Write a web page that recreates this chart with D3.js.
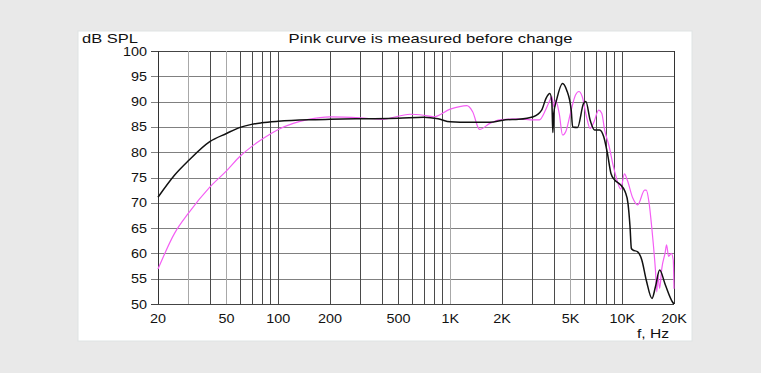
<!doctype html>
<head>
  <script src="https://cdn.jsdelivr.net/npm/d3@7/dist/d3.min.js" charset="utf-8"></script>
</head>

<style type="text/css">
  body { margin: 0; background: #e9e9e9; }
  svg { display: block; }
  .lbl { font-family: 'Liberation Sans', Arial, Helvetica, sans-serif; fill: #111; }
</style>

<body>
<svg></svg>
<script>
// measured after change (black)
var blackFreq = [20, 25, 30, 40, 50, 60, 70, 80, 100, 150, 200, 300, 500, 700, 850, 1000, 1300, 1700,
  2100, 2500, 3040, 3400, 3600, 3800, 3900, 3950, 4000, 4150, 4500, 4750, 5050, 5150, 5500, 5970, 6150,
  6500, 6900, 7400, 7800, 8200, 8600, 9000, 9800, 10400, 10800, 11100, 11300, 11500, 12300, 13000,
  13800, 14900, 15600, 16500, 17800, 19600, 20000];
var blackDb = [71.1, 75.5, 78.3, 82.1, 83.7, 84.9, 85.5, 85.8, 86.1, 86.4, 86.5, 86.6, 86.7, 86.9, 86.6,
  86.0, 85.9, 85.9, 86.4, 86.5, 87.0, 88.3, 90.6, 91.6, 89.7, 83.9, 87.7, 90.3, 93.6, 92.3, 88.3, 85.0,
  84.9, 89.7, 90.0, 86.4, 84.4, 84.4, 83.1, 79.8, 75.8, 74.6, 73.5, 72.2, 69.9, 65.3, 61.0, 60.7, 60.3,
  58.7, 54.7, 51.1, 53.4, 56.7, 53.8, 50.4, 50.0];

// measured before change (pink)
var pinkFreq = [20, 25, 30, 40, 50, 60, 70, 80, 100, 150, 200, 300, 400, 585, 700, 800, 1000, 1250, 1350,
  1480, 1700, 1950, 2500, 3040, 3300, 3600, 3800, 3900, 4000, 4100, 4300, 4500, 4700, 5000, 5350, 5600,
  5850, 6200, 6500, 6800, 7300, 7600, 7900, 8400, 8800, 9200, 9800, 10300, 10700, 11500, 12300, 13500,
  13800, 14300, 14900, 15600, 15900, 16100, 16500, 17000, 17800, 18100, 18600, 19300, 19800, 20000];
var pinkDb = [56.9, 64.0, 67.9, 73.1, 76.3, 79.2, 81.1, 82.5, 84.5, 86.5, 87.0, 86.8, 86.5, 87.5, 87.3,
  87.0, 88.5, 89.2, 88.0, 84.5, 85.7, 86.4, 86.6, 86.4, 86.4, 88.5, 90.3, 91.0, 89.0, 90.3, 87.7, 83.4,
  84.1, 87.7, 91.3, 92.0, 91.0, 87.0, 84.7, 85.7, 88.3, 87.7, 84.4, 81.1, 77.8, 75.2, 72.7, 75.7, 74.5,
  71.0, 69.6, 72.5, 72.5, 70.2, 64.6, 56.7, 52.4, 55.7, 53.1, 57.1, 60.3, 61.7, 59.4, 60.0, 58.7, 53.0];

var gridFreqs = [20, 30, 40, 50, 60, 70, 80, 90, 100, 200, 300, 400, 500, 600, 700, 800, 900,
  1000, 2000, 3000, 4000, 5000, 6000, 7000, 8000, 9000, 10000, 20000];
var lightFreqs = [30, 50, 1000, 5000];
var xTickValues = [20, 50, 100, 200, 500, 1000, 2000, 5000, 10000, 20000];
var xTickLabels = ["20", "50", "100", "200", "500", "1K", "2K", "5K", "10K", "20K"];
var yTicks = [50, 55, 60, 65, 70, 75, 80, 85, 90, 95, 100];

var W = 761, H = 373;
var svg = d3.select("svg").attr("width", W).attr("height", H);

// white panel
svg.append("rect")
  .attr("x", 78).attr("y", 31).attr("width", 614).attr("height", 310)
  .style("fill", "#fff").style("stroke", "#dfe4e4").style("stroke-width", 1);

var x = d3.scaleLog().domain([20, 20000]).range([158, 674]);
var y = d3.scaleLinear().domain([50, 100]).range([304, 51]);

var grid = svg.append("g");

// horizontal grid + y ticks
grid.selectAll("line.h").data(yTicks).enter().append("line")
  .attr("x1", 151).attr("x2", x(20000))
  .attr("y1", function(d){ return Math.round(y(d)) + 0.5; })
  .attr("y2", function(d){ return Math.round(y(d)) + 0.5; })
  .style("stroke", function(d){ return (d == 100 || d == 50) ? "#444" : "#808080"; })
  .style("stroke-width", 1);

// vertical grid
grid.selectAll("line.v").data(gridFreqs).enter().append("line")
  .attr("x1", function(d){ return Math.round(x(d)) + 0.5; })
  .attr("x2", function(d){ return Math.round(x(d)) + 0.5; })
  .attr("y1", y(100)).attr("y2", y(50))
  .style("stroke", function(d){
    if (d == 20 || d == 20000) return "#333";
    return lightFreqs.indexOf(d) >= 0 ? "#a8a8a8" : "#4a4a4a";
  })
  .style("stroke-width", 1);

// text helper: the source font is stretched sideways
function label(txt, px, py, size, anchor, sx){
  return svg.append("text").classed("lbl", true)
    .attr("transform", "translate(" + [px, py] + ") scale(" + sx + ",1)")
    .attr("text-anchor", anchor)
    .style("font-size", size + "px")
    .text(txt);
}

yTicks.forEach(function(d){ label(d, 147, y(d) + 4.5, 12, "end", 1.2); });
xTickValues.forEach(function(d, i){ label(xTickLabels[i], x(d), 323, 12, "middle", 1.2); });

label("dB SPL", 82, 43, 13, "start", 1.27);
label("Pink curve is measured before change", 430.5, 43, 13, "middle", 1.28);
label("f, Hz", 637, 338, 13, "start", 1.2);

var line = d3.line()
  .x(function(d){ return x(d[0]); })
  .y(function(d){ return y(d[1]); })
  .curve(d3.curveMonotoneX);

var plot = svg.append("g");

plot.append("path")
  .datum(d3.zip(pinkFreq, pinkDb))
  .attr("d", line)
  .style("fill", "none").style("stroke", "#f45ef4").style("stroke-width", 1.2);

plot.append("path")
  .datum(d3.zip(blackFreq, blackDb))
  .attr("d", line)
  .style("fill", "none").style("stroke", "#111").style("stroke-width", 1.5);
</script>
</body>
